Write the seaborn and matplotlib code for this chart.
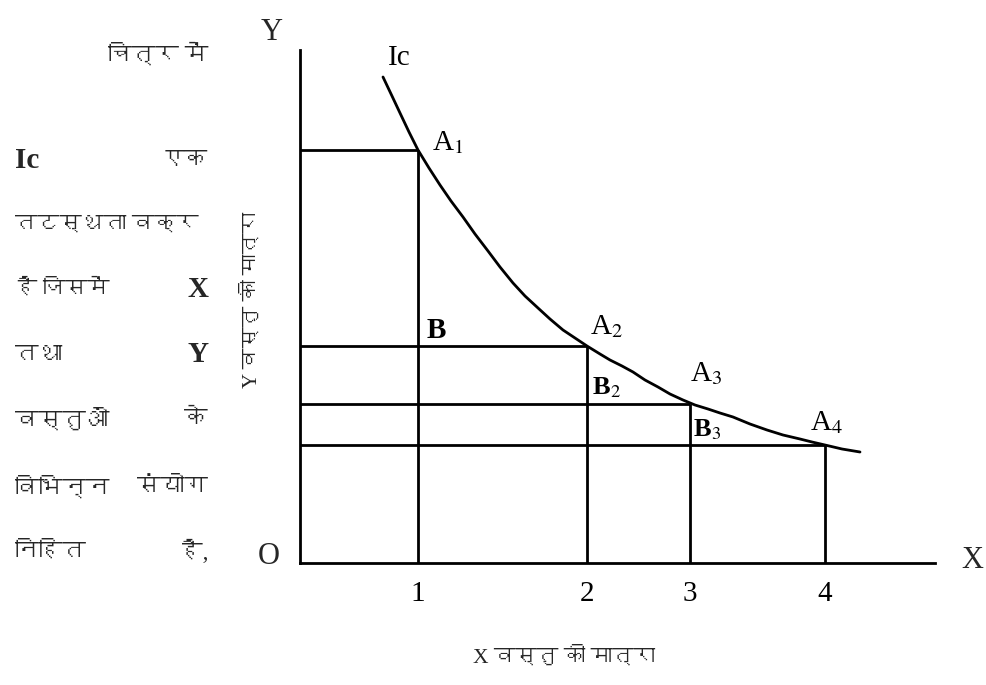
import matplotlib
matplotlib.use("Agg")
import matplotlib.pyplot as plt
from matplotlib import font_manager
from matplotlib.ft2font import FT2Font
import seaborn as sns
import pandas as pd

# ---------------- data ----------------
curve_x = [0.83, 0.92, 1.00, 1.09, 1.18, 1.29, 1.40, 1.51, 1.63, 1.75, 1.88, 2.00, 2.13, 2.25, 2.38, 2.50, 2.63, 2.75, 2.87, 3.00, 3.10, 3.22, 3.33, 3.45, 3.58, 3.70, 3.83, 3.95, 4.08, 4.20, 4.33, 4.50, 4.67, 4.83, 5.00, 5.12, 5.25, 5.42, 5.60]
curve_y = [4.86, 4.67, 4.50, 4.31, 4.13, 3.95, 3.78, 3.62, 3.46, 3.29, 3.12, 2.96, 2.80, 2.67, 2.55, 2.44, 2.33, 2.25, 2.17, 2.09, 2.03, 1.97, 1.91, 1.83, 1.76, 1.69, 1.63, 1.58, 1.54, 1.50, 1.46, 1.39, 1.33, 1.28, 1.24, 1.21, 1.18, 1.14, 1.11]
point_x = [1.18, 2.87, 3.90, 5.25]
point_y = [4.13, 2.17, 1.59, 1.18]
point_labels = ["A$_1$", "A$_2$", "A$_3$", "A$_4$"]
b_labels = ["B", "B$_2$", "B$_3$"]
tick_labels = ["1", "2", "3", "4"]
curve_label = "Ic"
x_label = "X वस्तु की मात्रा"
y_label = "Y वस्तु की मात्रा"
side_left = ["", "Ic", "तटस्थता वक्र", "है जिसमें", "तथा", "वस्तुओं", "विभिन्न", "निहित"]
side_right = ["चित्र में", "एक", "", "X", "Y", "के", "संयोग", "है,"]

# ---------------- fonts ----------------
def find_devanagari():
    for f in font_manager.fontManager.ttflist:
        try:
            cm = FT2Font(f.fname).get_charmap()
            if 0x0915 in cm and 0x093F in cm:
                return f.name
        except Exception:
            pass
    return None

sns.set_theme(style="white")
deva = find_devanagari()
serif = "Liberation Serif"
hindi_family = [deva, "DejaVu Sans"] if deva else ["DejaVu Sans"]
plt.rcParams["font.family"] = [serif, "DejaVu Sans"]
plt.rcParams["mathtext.fontset"] = "stix"

W, H = 986, 685
fig = plt.figure(figsize=(W / 100, H / 100), dpi=100, facecolor="white")
ox, oy, ax_w, ax_h = 300, 563, 635, 513
ax = fig.add_axes([ox / W, (H - oy) / H, ax_w / W, ax_h / H])
ax.set_xlim(0, ax_w / 100)
ax.set_ylim(0, ax_h / 100)
ax.set_facecolor("white")

lw = 2.0
df = pd.DataFrame({"x": curve_x, "y": curve_y})
sns.lineplot(data=df, x="x", y="y", sort=False, estimator=None, color="black", lw=lw, ax=ax)

ax.hlines(point_y, 0, point_x, color="black", lw=lw)
ax.vlines(point_x, 0, point_y, color="black", lw=lw)

offs = [(14, 7), (3, 19), (0, 30), (-15, 22)]
for (x, y, lab), (dx, dy) in zip(zip(point_x, point_y, point_labels), offs):
    ax.annotate(lab, (x, y), xytext=(dx, dy), textcoords="offset pixels",
                ha="left", va="center", fontsize=21, color="black")
b_offs = [(9, 16), (5, 16), (3, 15)]
b_sizes = [21, 19, 19]
for i, lab in enumerate(b_labels):
    ax.annotate(lab, (point_x[i], point_y[i + 1]), xytext=b_offs[i], textcoords="offset pixels",
                ha="left", va="center", fontsize=b_sizes[i], fontweight="bold", color="black")
ax.annotate(curve_label, (curve_x[0], curve_y[0]), xytext=(5, 19), textcoords="offset pixels",
            ha="left", va="center", fontsize=21, color="black")

for s in ["top", "right"]:
    ax.spines[s].set_visible(False)
for s in ["left", "bottom"]:
    ax.spines[s].set_color("black")
    ax.spines[s].set_linewidth(lw)

ax.set_yticks([])
ax.set_xticks(point_x, tick_labels)
ax.tick_params(axis="x", length=0, pad=13, labelsize=21, labelcolor="black")
ax.set_xlabel("")
ax.set_ylabel("")

def px(x, y):
    return x / W, 1 - y / H

fig.text(*px(269, 557), "O", ha="center", va="center", fontsize=22)
fig.text(*px(272, 32), "Y", ha="center", va="center", fontsize=22)
fig.text(*px(972, 560), "X", ha="center", va="center", fontsize=22)
fig.text(*px(564, 657), x_label, ha="center", va="center", fontsize=15.5, family=[serif] + hindi_family)
fig.text(*px(252, 300), y_label, ha="center", va="center", rotation=90, fontsize=15, family=[serif] + hindi_family)

line_y = [55, 160, 225, 290, 355, 420, 488, 552]
for yy, lt, rt in zip(line_y, side_left, side_right):
    if lt:
        bold = lt == "Ic"
        size = 21 if bold else (16 if " " in lt else 17)
        fig.text(*px(15, yy), lt, ha="left", va="center", fontsize=size,
                 family=[serif] + hindi_family, fontweight="bold" if bold else "normal")
    if rt:
        bold = rt in ("X", "Y")
        fig.text(*px(208, yy), rt, ha="right", va="center", fontsize=21 if bold else 17,
                 family=[serif] + hindi_family, fontweight="bold" if bold else "normal")

fig.savefig("out.png", dpi=100, facecolor="white")
